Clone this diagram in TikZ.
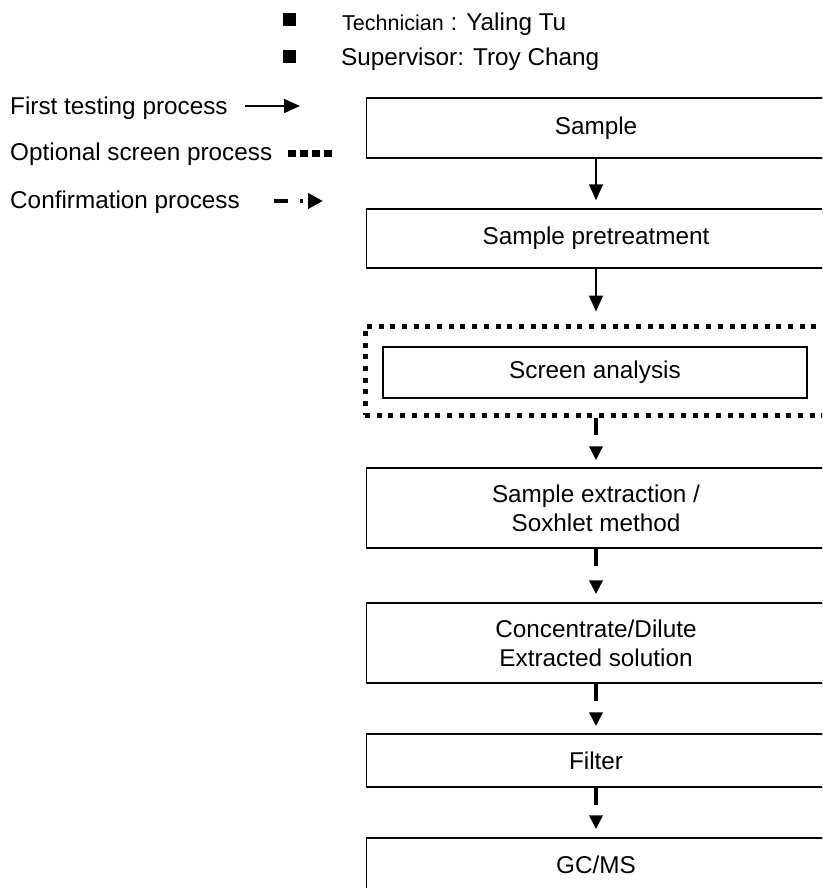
\documentclass[tikz,border=0pt]{standalone}
\usepackage{fontspec}
\setmainfont{Liberation Sans}
\usetikzlibrary{arrows.meta}

\begin{document}
\begin{tikzpicture}[x=1pt,y=-1pt,
  every node/.style={font=\fontsize{24.3}{29}\selectfont,inner sep=0pt},
  stage/.style={draw,line width=1.5pt,minimum width=459pt,align=center},
  first/.style={line width=1.6pt,-{Triangle[length=16pt,width=14pt]}},
  confirm/.style={line width=3.5pt,dash pattern=on 17pt off 40pt,-{Triangle[length=14pt,width=13pt]}},
  optional/.style={line width=5pt,dash pattern=on 5pt off 6.7pt}]
\useasboundingbox (0,0) rectangle (822,888);
\clip (0,0) rectangle (822,888);

% staff
\node[fill,minimum size=13pt] (bul1) at (289.5,20) {};
\node[fill,minimum size=13pt] (bul2) at (289.5,57) {};
\node[anchor=base west] (tech) at (342,31) {{\fontsize{21.5}{26}\selectfont Technician} : Yaling Tu};
\node[anchor=base west] (sup) at (341,66) {Supervisor: Troy Chang};

% legend
\node[anchor=base west] (lfirst) at (10,115) {First testing process};
\node[anchor=base west] (lopt) at (10,160) {Optional screen process};
\node[anchor=base west] (lconf) at (10,208) {Confirmation process};
\coordinate (f1) at (245,106);
\coordinate (f2) at (300,106);
\coordinate (o1) at (288,153);
\coordinate (o2) at (332,153);
\coordinate (c1) at (274,201);
\coordinate (c2) at (323,201);
\draw[first] (f1) -- (f2);
\draw[line width=7pt,dash pattern=on 8pt off 4pt] (o1) -- (o2);
\draw[line width=4pt,dash pattern=on 14pt off 12pt on 3pt off 10pt,-{Triangle[length=15pt,width=15pt]}] (c1) -- (c2);

% flow
\node[stage,minimum height=60pt] (sample) at (596,128) {Sample};
\node[stage,minimum height=59pt] (pretreat) at (596,238.5) {Sample pretreatment};
\node[draw,optional,minimum width=462pt,minimum height=89pt] (zone) at (596,370.5) {};
\node[draw,line width=1.5pt,minimum width=424pt,minimum height=51pt] (screen) at (595,372.5) {Screen analysis};
\node[stage,minimum height=80pt] (extract) at (596,508) {Sample extraction /\\Soxhlet method};
\node[stage,minimum height=80pt] (conc) at (596,643) {Concentrate/Dilute\\Extracted solution};
\node[stage,minimum height=53pt] (filter) at (596,760.5) {Filter};
\node[stage,minimum height=54pt] (gcms) at (596,865) {GC/MS};

\draw[first,shorten >=8pt] (sample) -- (pretreat);
\draw[first,shorten >=12pt] (pretreat) -- (zone.north);
\draw[confirm,shorten >=7pt] (zone.south) -- (extract);
\draw[confirm,shorten >=8pt] (extract) -- (conc);
\draw[confirm,shorten >=7pt] (conc) -- (filter);
\draw[confirm,shorten >=8pt] (filter) -- (gcms);
\end{tikzpicture}
\end{document}
